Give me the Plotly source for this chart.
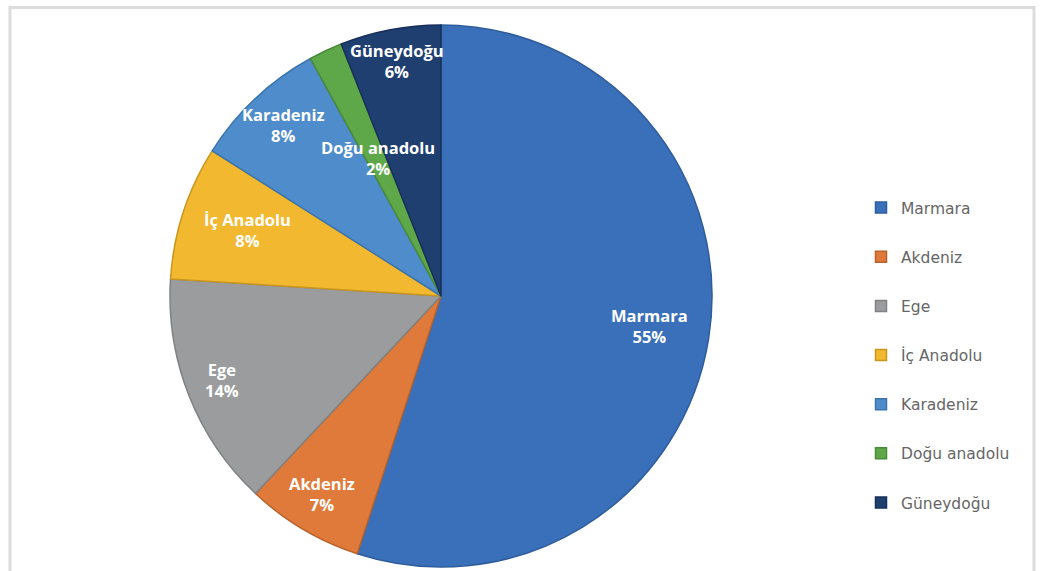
import numpy as np
import plotly.graph_objects as go

regions = ["Marmara", "Akdeniz", "Ege", "İç Anadolu", "Karadeniz", "Doğu anadolu", "Güneydoğu"]
shares = [55, 7, 14, 8, 8, 2, 6]
colors = ["#3a70b9", "#e07a3a", "#9a9c9d", "#f2b82f", "#4e8ccb", "#5ea84a", "#1f3f70"]
edge_colors = ["#2f5d9c", "#b8622c", "#7f8182", "#c9961f", "#3c75ad", "#4a8a39", "#17305a"]

# label radius as a fraction of the pie radius (Excel "best fit" placement)
label_r = [0.78, 0.86, 0.87, 0.75, 0.85, 0.55, 0.87]

W, H = 1048, 571
CX, CY, R = 441, 296, 271

fig = go.Figure()
fig.add_trace(
    go.Pie(
        labels=regions,
        values=shares,
        sort=False,
        direction="clockwise",
        rotation=0,
        marker=dict(colors=colors, line=dict(color=edge_colors, width=1.5)),
        textinfo="none",
        showlegend=False,
        hoverinfo="label+percent",
        domain=dict(x=[(CX - R) / W, (CX + R) / W], y=[1 - (CY + R) / H, 1 - (CY - R) / H]),
    )
)

# legend entries (separate groups so they can be spaced like the original)
for name, col, ec in zip(regions, colors, edge_colors):
    fig.add_trace(
        go.Scatter(
            x=[None], y=[None], mode="markers", name=name, legendgroup=name,
            marker=dict(symbol="square", size=11, color=col, line=dict(color=ec, width=1.5)),
        )
    )

# data labels placed from the cumulative shares
total = sum(shares)
cum = np.cumsum([0] + shares)
for i, name in enumerate(regions):
    theta = np.deg2rad((cum[i] + shares[i] / 2) / total * 360)
    r = label_r[i] * R
    lx = CX + r * np.sin(theta)
    ly = CY - r * np.cos(theta)
    fig.add_annotation(
        x=lx / W, y=1 - (ly - 3) / H, xref="paper", yref="paper",
        text=f"{name}<br>{shares[i] / total:.0%}",
        showarrow=False, xanchor="center", yanchor="middle",
        font=dict(family="Open Sans", size=16.5, color="white", weight="bold"),
    )

# outer frame
fig.add_shape(
    type="rect", xref="paper", yref="paper",
    x0=10 / W, x1=1034 / W, y0=-0.05, y1=1 - 7.5 / H,
    line=dict(color="#dcdcdc", width=3), fillcolor="rgba(0,0,0,0)",
)

fig.update_layout(
    width=W, height=H,
    margin=dict(l=0, r=0, t=0, b=0),
    paper_bgcolor="white", plot_bgcolor="white",
    xaxis=dict(visible=False), yaxis=dict(visible=False),
    legend=dict(
        x=861 / W, y=1 - 191 / H, xanchor="left", yanchor="top",
        font=dict(family="DejaVu Sans", size=15.5, color="#666666"),
        tracegroupgap=26, itemwidth=30,
    ),
)

fig.write_html(
    "out.html",
    config={"displayModeBar": False},
    post_script="document.body.style.margin='0';document.body.style.overflow='hidden';",
)
